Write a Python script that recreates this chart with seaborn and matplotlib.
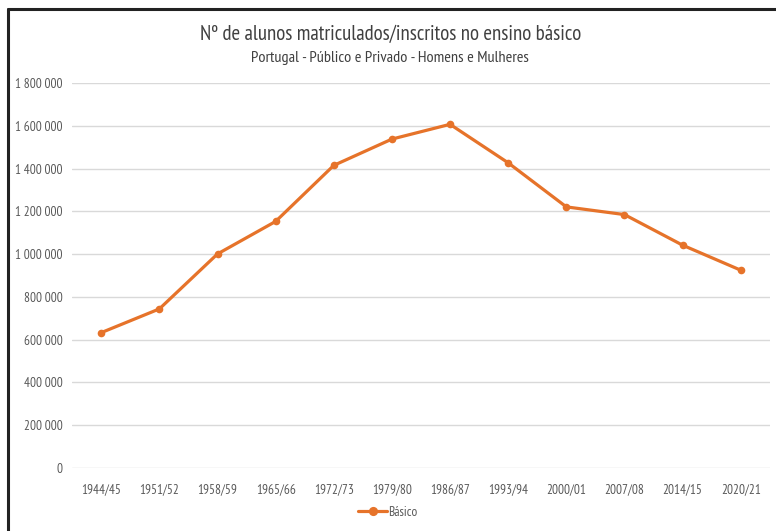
import matplotlib.pyplot as plt
import seaborn as sns
from matplotlib.lines import Line2D
from matplotlib.ticker import FuncFormatter

years = ['1944/45', '1951/52', '1958/59', '1965/66', '1972/73', '1979/80',
         '1986/87', '1993/94', '2000/01', '2007/08', '2014/15', '2020/21']
alunos = [633000, 744000, 1001000, 1153000, 1415000, 1538000,
          1607000, 1427000, 1221000, 1185000, 1042000, 925000]
yticks = [0, 200000, 400000, 600000, 800000, 1000000, 1200000, 1400000, 1600000, 1800000]

sns.set_style('white')
plt.rcParams['font.family'] = ['PT Sans Narrow', 'Carlito', 'DejaVu Sans']

orange = '#E6732A'
grey_txt = '#595959'

fig = plt.figure(figsize=(7.76, 5.31), dpi=100)
ax = fig.add_axes([0.093, 0.1186, 0.899, 0.725])

sns.lineplot(x=years, y=alunos, ax=ax, color=orange, linewidth=2.3,
             marker='o', markersize=5.5, markeredgewidth=0, sort=False, label='Básico')

ax.set_ylim(0, 1800000)
ax.set_xlim(-0.5, len(years) - 0.5)
ax.set_yticks(yticks)
ax.yaxis.set_major_formatter(FuncFormatter(lambda v, p: f'{int(v):,}'.replace(',', ' ')))
ax.grid(axis='y', color='#D9D9D9', linewidth=1)
ax.set_axisbelow(True)
for s in ax.spines.values():
    s.set_visible(False)
ax.tick_params(axis='both', length=0, labelsize=9.5, labelcolor=grey_txt)
ax.tick_params(axis='y', pad=7)
ax.tick_params(axis='x', pad=11)
ax.set_xlabel('')
ax.set_ylabel('')

ax.legend(loc='center', bbox_to_anchor=(0.5, 0.035), bbox_transform=fig.transFigure,
          frameon=False, fontsize=9.5, labelcolor=grey_txt, handlelength=2.2,
          handletextpad=0.1, markerscale=1.2)

fig.text(0.503, 0.935, 'Nº de alunos matriculados/inscritos no ensino básico',
         ha='center', va='center', fontsize=15, color='#404040')
fig.text(0.503, 0.891, 'Portugal - Público e Privado - Homens e Mulheres',
         ha='center', va='center', fontsize=11.7, color='#404040')

# dark frame on top and left edges
fig.add_artist(Line2D([0.01, 1.0], [0.983, 0.983], transform=fig.transFigure,
                      color='#222222', linewidth=2.2))
fig.add_artist(Line2D([0.01, 0.01], [0.0, 0.983], transform=fig.transFigure,
                      color='#222222', linewidth=2.2))

fig.savefig('out.png', dpi=100)
